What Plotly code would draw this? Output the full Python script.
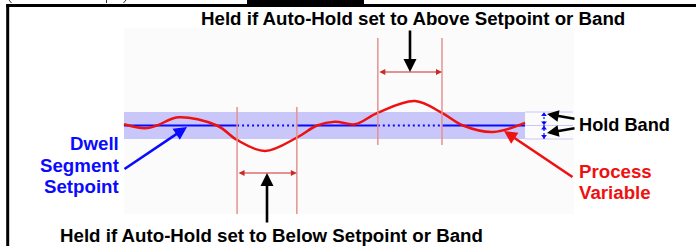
import plotly.graph_objects as go

# ---- data (time in % of dwell segment, value = deviation in hold-band units) ----
pv_time = [0, 5.24, 8.23, 13.47, 23.19, 28.18, 35.16, 43.14, 48.13, 52.62, 57.61, 63.34, 72.57, 79.3, 84.54, 92.02, 100]
pv_value = [0.09, -0.21, 0, 0.61, 0, -1.07, -1.89, -0.89, 0, 0.28, 0.09, 0.95, 1.81, 0.93, 0, -0.48, 0.19]
setpoint = 0.0
band_half = 1.0
segment_end = 100
hold_below = [28.2, 43.1]
hold_above = [63.3, 79.3]

# ---- figure geometry helpers (pixel -> data) ----
W, H = 696, 246
PX_T0, PX_PER_T = 124, 4.01
PY_SP, PX_PER_V = 125.5, 13.5
def T(px):
    return (px - PX_T0) / PX_PER_T
def V(py):
    return (PY_SP - py) / PX_PER_V

RED = "#ee1111"
BLUE = "#0a0aff"
LAV = "rgb(201,198,249)"
VLINE = "#e49292"
HARROW = "#cc2a2a"
FONT = "Liberation Sans, Arial, sans-serif"
FS = 18.7

fig = go.Figure()

shapes = []
# off-white diagram area
shapes.append(dict(type="rect", xref="x", yref="y", x0=T(124), x1=T(574), y0=V(28), y1=V(214),
                   fillcolor="#fbfbfb", line=dict(width=0), layer="below"))
# hold band
shapes.append(dict(type="rect", xref="x", yref="y", x0=0, x1=segment_end, y0=setpoint - band_half,
                   y1=setpoint + band_half, fillcolor=LAV, line=dict(width=0), layer="below"))
# hold band legend box lines
for lv in (setpoint + band_half, setpoint, setpoint - band_half):
    shapes.append(dict(type="line", xref="x", yref="y", x0=segment_end, x1=T(573), y0=lv, y1=lv,
                       line=dict(color=LAV, width=1.2), layer="below"))
# vertical hold markers
for t in hold_below:
    shapes.append(dict(type="line", xref="x", yref="y", x0=t, x1=t, y0=V(107), y1=V(214),
                       line=dict(color=VLINE, width=1.5)))
for t in hold_above:
    shapes.append(dict(type="line", xref="x", yref="y", x0=t, x1=t, y0=V(38), y1=V(145),
                       line=dict(color=VLINE, width=1.5)))
# frame
shapes.append(dict(type="line", xref="paper", yref="paper", x0=7.7 / W, x1=7.7 / W, y0=0, y1=1 - 4 / H,
                   line=dict(color="black", width=3)))
shapes.append(dict(type="line", xref="paper", yref="paper", x0=6.2 / W, x1=1, y0=1 - 5.5 / H, y1=1 - 5.5 / H,
                   line=dict(color="black", width=3)))
shapes.append(dict(type="rect", xref="paper", yref="paper", x0=247 / W, x1=364 / W, y0=1 - 5 / H, y1=1,
                   fillcolor="black", line=dict(width=0)))
# cut-off glyph fragments above the frame
for (xa, xb) in ((9, 11.5), (106.5, 106.5), (126, 123.5)):
    shapes.append(dict(type="line", xref="paper", yref="paper", x0=xa / W, x1=xb / W, y0=1, y1=1 - 3 / H,
                       line=dict(color="#333333", width=1)))

# setpoint: solid outside holds, dotted inside
solid_x = [0, hold_below[0], None, hold_below[1], hold_above[0], None, hold_above[1], segment_end]
solid_y = [setpoint, setpoint, None, setpoint, setpoint, None, setpoint, setpoint]
fig.add_trace(go.Scatter(x=solid_x, y=solid_y, mode="lines", line=dict(color=BLUE, width=2),
                         hoverinfo="skip", showlegend=False))
dot_x = [hold_below[0], hold_below[1], None, hold_above[0], hold_above[1]]
dot_y = [setpoint, setpoint, None, setpoint, setpoint]
fig.add_trace(go.Scatter(x=dot_x, y=dot_y, mode="lines", line=dict(color=BLUE, width=2, dash="2px,3px"),
                         hoverinfo="skip", showlegend=False))

# hold band dotted double arrows
ta = T(544)
fig.add_trace(go.Scatter(x=[ta, ta], y=[setpoint - band_half, setpoint + band_half], mode="lines",
                         line=dict(color=BLUE, width=1.2, dash="2px,2px"), hoverinfo="skip", showlegend=False))
fig.add_trace(go.Scatter(x=[ta, ta, ta, ta], y=[setpoint + band_half - 0.2, setpoint + 0.2, setpoint - 0.2,
                                                setpoint - band_half + 0.2],
                         mode="markers", marker=dict(symbol=["triangle-up", "triangle-down", "triangle-up",
                                                             "triangle-down"], size=5, color=BLUE),
                         hoverinfo="skip", showlegend=False))

# process variable
fig.add_trace(go.Scatter(x=pv_time, y=pv_value, mode="lines",
                         line=dict(color=RED, width=2.5, shape="spline", smoothing=1.0),
                         hoverinfo="skip", showlegend=False))

ann = []
def arrow(hx, hy, tx, ty, color, width, head=2, size=1.0, side="end"):
    ann.append(dict(x=hx, y=hy, ax=tx, ay=ty, xref="x", yref="y", axref="x", ayref="y", text="",
                    showarrow=True, arrowhead=head, arrowsize=size, arrowwidth=width, arrowcolor=color,
                    arrowside=side, startarrowhead=head, startarrowsize=size))

def label(px, py, text, color, anchor="center", size=FS):
    ann.append(dict(x=T(px), y=V(py), xref="x", yref="y", text="<b>%s</b>" % text, showarrow=False,
                    xanchor=anchor, yanchor="middle", font=dict(family=FONT, size=size, color=color)))

# red double arrows spanning the hold periods
arrow(hold_below[1], V(173), hold_below[0], V(173), HARROW, 1.2, head=2, size=1.0, side="end+start")
arrow(hold_above[1], V(72), hold_above[0], V(72), HARROW, 1.2, head=2, size=1.0, side="end+start")
# black pointer arrows
arrow(T(410), V(72), T(410), V(29), "black", 2.6, head=2, size=1.0)
arrow(T(267), V(173), T(267), V(224), "black", 2.6, head=2, size=1.0)
arrow(T(187), V(127), T(123), V(170), BLUE, 2.6, head=2, size=1.0)
arrow(T(504), V(131), T(574), V(178), RED, 2.6, head=2, size=1.0)
arrow(T(547), V(114), T(576), V(119), "black", 2.6, head=2, size=0.9)
arrow(T(547), V(133), T(576), V(128), "black", 2.6, head=2, size=0.9)

label(412.5, 18.5, "Held if Auto-Hold set to Above Setpoint or Band", "black")
label(271, 235, "Held if Auto-Hold set to Below Setpoint or Band", "black")
label(121, 143.5, "Dwell", BLUE, anchor="right")
label(121, 165.5, "Segment", BLUE, anchor="right")
label(121, 186.5, "Setpoint", BLUE, anchor="right")
label(577, 171.5, "Process", RED, anchor="left")
label(577, 192.5, "Variable", RED, anchor="left")
label(577, 124.5, "Hold Band", "black", anchor="left", size=18.2)

fig.update_layout(
    width=W, height=H, margin=dict(l=0, r=0, t=0, b=0),
    paper_bgcolor="white", plot_bgcolor="white",
    xaxis=dict(range=[T(0), T(W)], visible=False, fixedrange=True),
    yaxis=dict(range=[V(H), V(0)], visible=False, fixedrange=True),
    shapes=shapes, annotations=ann, showlegend=False,
)
fig.write_html("out.html", config={"displayModeBar": False},
               post_script="document.body.style.margin='0';document.body.style.overflow='hidden';")
